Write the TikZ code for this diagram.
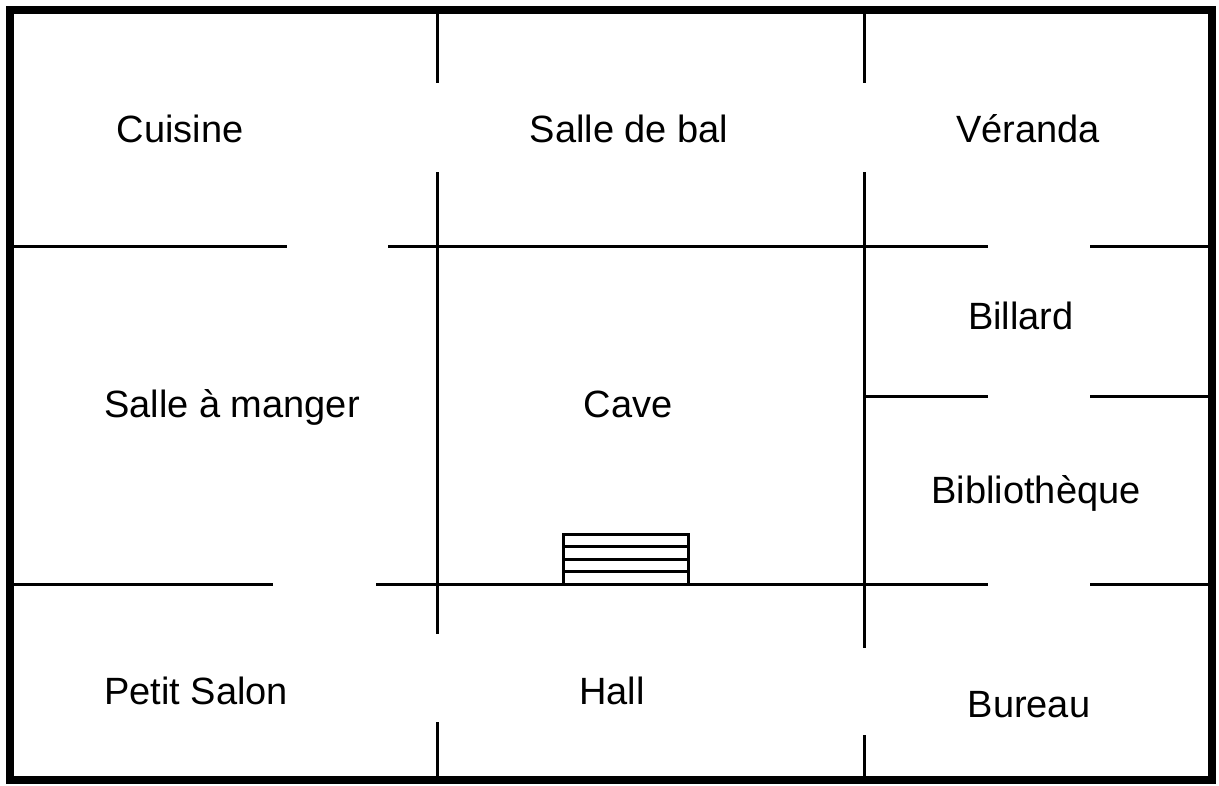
\documentclass[tikz,border=0pt]{standalone}
\usepackage{fontspec}
\setmainfont{Liberation Sans}
\begin{document}
\begin{tikzpicture}[x=1pt,y=-1pt,
  wall/.style={line width=3pt},
  outer/.style={line width=7.5pt},
  room/.style={font=\fontsize{38}{44}\selectfont, anchor=base, inner sep=0pt}]
\useasboundingbox (0,0) rectangle (1219,785);
% outer border
\draw[outer] (10,10) rectangle (1212,780);
% vertical walls
\draw[wall] (437,10) -- (437,83);
\draw[wall] (437,172) -- (437,634);
\draw[wall] (437,722) -- (437,780);
\draw[wall] (864,10) -- (864,83);
\draw[wall] (864,172) -- (864,648);
\draw[wall] (864,735) -- (864,780);
% horizontal walls
\draw[wall] (10,246) -- (287,246);
\draw[wall] (388,246) -- (988,246);
\draw[wall] (1090,246) -- (1212,246);
\draw[wall] (864,396) -- (988,396);
\draw[wall] (1090,396) -- (1212,396);
\draw[wall] (10,584) -- (273,584);
\draw[wall] (376,584) -- (988,584);
\draw[wall] (1090,584) -- (1212,584);
% stairs
\draw[wall] (563,534) rectangle (688,584);
\draw[wall] (563,546.5) -- (688,546.5);
\draw[wall] (563,559) -- (688,559);
\draw[wall] (563,571.5) -- (688,571.5);
% labels
\node[room] (cuisine) at (180,142) {Cuisine};
\node[room] (bal) at (629,142) {Salle de bal};
\node[room] (veranda) at (1028,142) {Véranda};
\node[room] (billard) at (1021,329) {Billard};
\node[room] (manger) at (232,417) {Salle à manger};
\node[room] (cave) at (628,417) {Cave};
\node[room] (biblio) at (1036,503) {Bibliothèque};
\node[room] (salon) at (196,704) {Petit Salon};
\node[room] (hall) at (612,704) {Hall};
\node[room] (bureau) at (1029,717) {Bureau};
\end{tikzpicture}
\end{document}
